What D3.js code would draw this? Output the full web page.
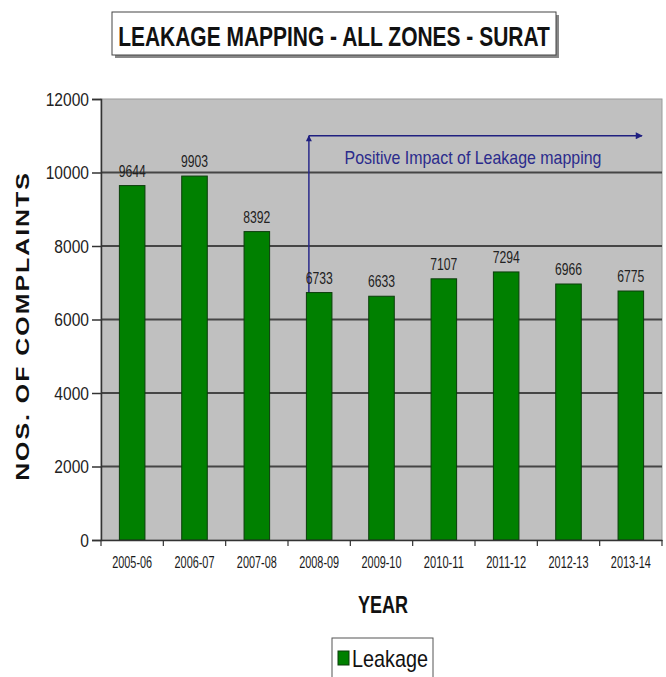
<!DOCTYPE html>
<html>
<head>
<meta charset="utf-8">
<script src="https://cdn.jsdelivr.net/npm/d3@7"></script>
<style>
  html, body { margin: 0; padding: 0; background: #ffffff; }
  svg { display: block; }
</style>
</head>
<body>
<svg id="chart" width="666" height="677"></svg>
<script>
// ---- data ----
const categories = ["2005-06", "2006-07", "2007-08", "2008-09", "2009-10", "2010-11", "2011-12", "2012-13", "2013-14"];
const leakage = [9644, 9903, 8392, 6733, 6633, 7107, 7294, 6966, 6775];
const yTicks = [0, 2000, 4000, 6000, 8000, 10000, 12000];
const seriesName = "Leakage";
const titleText = "LEAKAGE MAPPING - ALL ZONES - SURAT";
const yTitle = "NOS. OF COMPLAINTS";
const xTitle = "YEAR";
const annotationText = "Positive Impact of Leakage mapping";
const annotationStart = "2008-09";

// ---- layout ----
const svg = d3.select("#chart");
const plot = { left: 101, right: 662, top: 99, bottom: 540 };
const FONT = "'Liberation Sans',Arial,sans-serif";

// condense a text element horizontally about its anchor point
function condense(node, factor) {
  const t = d3.select(node);
  const ax = +t.attr("x") || 0;
  t.attr("transform", `translate(${ax},0) scale(${factor},1) translate(${-ax},0)`);
}
function fitWidth(node, w) {
  const len = node.getComputedTextLength();
  if (len > 0) condense(node, w / len);
}

const x = d3.scaleBand().domain(categories).range([plot.left, plot.right]).padding(0);
const y = d3.scaleLinear().domain([0, 12000]).range([plot.bottom, plot.top]);
const barFrac = 0.41;

// title box
svg.append("rect").attr("x", 115).attr("y", 15).attr("width", 444).attr("height", 43)
  .attr("fill", "#888");
svg.append("rect").attr("x", 112).attr("y", 12).attr("width", 444).attr("height", 43)
  .attr("fill", "#fff").attr("stroke", "#444").attr("stroke-width", 1);
svg.append("text").attr("x", 334).attr("y", 46).attr("text-anchor", "middle")
  .attr("font-family", FONT).attr("font-weight", "bold").attr("font-size", 28)
  .attr("fill", "#111")
  .text(titleText)
  .each(function () { fitWidth(this, 432); });

// plot background
svg.append("rect").attr("x", plot.left).attr("y", plot.top)
  .attr("width", plot.right - plot.left).attr("height", plot.bottom - plot.top)
  .attr("fill", "#c0c0c0").attr("stroke", "#9a9a9a").attr("stroke-width", 1);

// gridlines
svg.append("g").selectAll("line").data(yTicks.filter(t => t > 0 && t < 12000)).join("line")
  .attr("x1", plot.left).attr("x2", plot.right)
  .attr("y1", d => y(d)).attr("y2", d => y(d))
  .attr("stroke", "#454545").attr("stroke-width", 2);

// annotation arrow (behind bars)
const defs = svg.append("defs");
defs.append("marker").attr("id", "ah").attr("viewBox", "0 0 10 10")
  .attr("refX", 9).attr("refY", 5).attr("markerWidth", 9).attr("markerHeight", 7)
  .attr("markerUnits", "userSpaceOnUse").attr("orient", "auto")
  .append("path").attr("d", "M0,0 L10,5 L0,10 Z").attr("fill", "#1f1f80");
defs.append("marker").attr("id", "ah2").attr("viewBox", "0 0 10 10")
  .attr("refX", 9).attr("refY", 5).attr("markerWidth", 8).attr("markerHeight", 6)
  .attr("markerUnits", "userSpaceOnUse").attr("orient", "auto")
  .append("path").attr("d", "M0,0 L10,5 L0,10 Z").attr("fill", "#1f1f80");

const ax = x(annotationStart) + x.bandwidth() * (0.5 - barFrac / 2) + 2.5;
const ay = y(11000);
const startIdx = categories.indexOf(annotationStart);
svg.append("line").attr("x1", ax).attr("x2", ax)
  .attr("y1", y(leakage[startIdx])).attr("y2", ay)
  .attr("stroke", "#2a2a8a").attr("stroke-width", 1.5).attr("marker-end", "url(#ah2)");
svg.append("line").attr("x1", ax).attr("x2", x(categories[categories.length - 1]) + x.bandwidth() * 0.68)
  .attr("y1", ay).attr("y2", ay)
  .attr("stroke", "#1f1f80").attr("stroke-width", 1.5).attr("marker-end", "url(#ah)");
svg.append("text").attr("x", 473).attr("y", 164).attr("text-anchor", "middle")
  .attr("font-family", FONT).attr("font-size", 18).attr("fill", "#2b2b8c")
  .text(annotationText)
  .each(function () { fitWidth(this, 257); });

// bars
svg.append("g").selectAll("rect").data(leakage).join("rect")
  .attr("x", (d, i) => x(categories[i]) + x.bandwidth() * (0.5 - barFrac / 2))
  .attr("width", x.bandwidth() * barFrac)
  .attr("y", d => y(d))
  .attr("height", d => y(0) - y(d))
  .attr("fill", "#008000").attr("stroke", "#0b3d0b").attr("stroke-width", 1);

// value labels
svg.append("g").selectAll("text").data(leakage).join("text")
  .attr("x", (d, i) => x(categories[i]) + x.bandwidth() / 2)
  .attr("y", d => y(d) - 9)
  .attr("text-anchor", "middle")
  .attr("font-family", FONT).attr("font-size", 16).attr("fill", "#222")
  .text(d => d)
  .each(function () { condense(this, 0.76); });

// y axis
const yAxis = d3.axisLeft(y).tickValues(yTicks).tickSize(9).tickPadding(3).tickFormat(d3.format("d"));
const gy = svg.append("g").attr("transform", `translate(${plot.left},0)`).call(yAxis);
gy.select(".domain").attr("stroke", "#333").attr("stroke-width", 1.5);
gy.selectAll(".tick line").attr("stroke", "#333").attr("stroke-width", 1.5);
gy.selectAll(".tick text").attr("font-family", FONT).attr("font-size", 19).attr("fill", "#222")
  .each(function () { condense(this, 0.82); });

// x axis (labels at centers)
const xAxis = d3.axisBottom(x).tickSize(0).tickPadding(17);
const gx = svg.append("g").attr("transform", `translate(0,${plot.bottom})`).call(xAxis);
gx.select(".domain").attr("stroke", "#333").attr("stroke-width", 1.5);
gx.selectAll(".tick text").attr("font-family", FONT).attr("font-size", 16).attr("fill", "#1a1a1a")
  .each(function () { fitWidth(this, 40); });
// boundary tick marks
const bounds = categories.map(c => x(c)).concat([plot.right]);
svg.append("g").selectAll("line").data(bounds).join("line")
  .attr("x1", d => d).attr("x2", d => d)
  .attr("y1", plot.bottom).attr("y2", plot.bottom + 6)
  .attr("stroke", "#333").attr("stroke-width", 1.2);

// axis titles
svg.append("g").attr("transform", "translate(29,326) rotate(-90)")
  .append("text").attr("x", 0).attr("y", 0)
  .attr("text-anchor", "middle")
  .attr("font-family", FONT).attr("font-weight", "bold").attr("font-size", 19)
  .attr("fill", "#111")
  .attr("letter-spacing", 1.5)
  .text(yTitle)
  .each(function () { fitWidth(this, 310); });
svg.append("text").attr("x", 383).attr("y", 613).attr("text-anchor", "middle")
  .attr("font-family", FONT).attr("font-weight", "bold").attr("font-size", 24)
  .attr("fill", "#111")
  .text(xTitle)
  .each(function () { fitWidth(this, 50); });

// legend
svg.append("rect").attr("x", 332).attr("y", 638).attr("width", 101).attr("height", 45)
  .attr("fill", "#fff").attr("stroke", "#555").attr("stroke-width", 1);
svg.append("rect").attr("x", 338).attr("y", 651).attr("width", 11).attr("height", 14)
  .attr("fill", "#008000").attr("stroke", "#0b3d0b").attr("stroke-width", 1);
svg.append("text").attr("x", 352).attr("y", 667)
  .attr("font-family", FONT).attr("font-size", 23).attr("fill", "#111")
  .text(seriesName)
  .each(function () { fitWidth(this, 76); });
</script>
</body>
</html>
